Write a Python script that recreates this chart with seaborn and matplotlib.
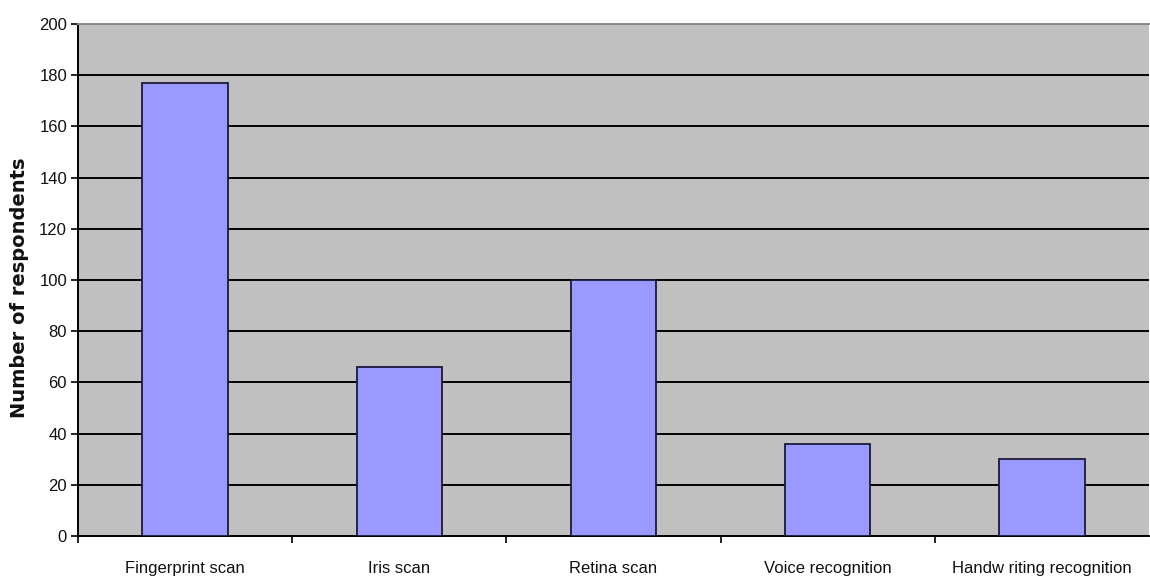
import matplotlib
matplotlib.use("Agg")
import matplotlib.pyplot as plt
import seaborn as sns
import pandas as pd
from matplotlib.ticker import FixedLocator
from matplotlib import font_manager

categories = ["Fingerprint scan", "Iris scan", "Retina scan", "Voice recognition", "Handw riting recognition"]
values = [177, 66, 100, 36, 30]
y_ticks = [0, 20, 40, 60, 80, 100, 120, 140, 160, 180, 200]

sns.set_theme(style="white")
plt.rcParams['font.family'] = ['Liberation Sans', 'DejaVu Sans']

names = {f.name for f in font_manager.fontManager.ttflist}
narrow = 'Liberation Sans Narrow' if 'Liberation Sans Narrow' in names else 'Liberation Sans'
tick_size = 14 if narrow == 'Liberation Sans Narrow' else 12

df = pd.DataFrame({"category": categories, "value": values})

fig = plt.figure(figsize=(11.5, 5.81), dpi=100)
ax = fig.add_axes([0.068, 0.0775, 0.931, 0.8812])

sns.barplot(data=df, x="category", y="value", color="#9999FF", saturation=1,
            width=0.4, edgecolor="#1a1a3a", linewidth=1.3, ax=ax, zorder=3)

ax.set_facecolor("#C0C0C0")
ax.set_ylim(0, 200)
ax.set_xlim(-0.5, len(categories) - 0.5)
ax.set_yticks(y_ticks)
ax.set_yticklabels([str(t) for t in y_ticks])
for lab in ax.get_yticklabels() + ax.get_xticklabels():
    lab.set_fontfamily([narrow, 'DejaVu Sans'])
    lab.set_fontsize(tick_size)
    lab.set_color("#111111")
ax.yaxis.grid(True, color="black", linewidth=1.4, zorder=1)
ax.set_axisbelow(True)
ax.set_xlabel("")
ax.set_ylabel("Number of respondents", fontsize=14, fontweight="bold",
              family=['DejaVu Sans'], color="#111111")
ax.yaxis.set_label_coords(-0.046, 0.485)

ax.tick_params(axis="x", which="major", length=0, pad=18)
ax.xaxis.set_minor_locator(FixedLocator([i + 0.5 for i in range(len(categories) - 1)] + [-0.5]))
ax.tick_params(axis="x", which="minor", length=5, width=1.2, color="black", direction="out", bottom=True)
ax.tick_params(axis="y", which="major", length=5, width=1.2, color="black", direction="out", left=True, pad=3)

for s in ["left", "bottom"]:
    ax.spines[s].set_color("black")
    ax.spines[s].set_linewidth(1.4)
ax.spines["top"].set_color("#8a8a8a")
ax.spines["top"].set_linewidth(1.4)
ax.spines["right"].set_visible(False)

fig.savefig("out.png", dpi=100)
